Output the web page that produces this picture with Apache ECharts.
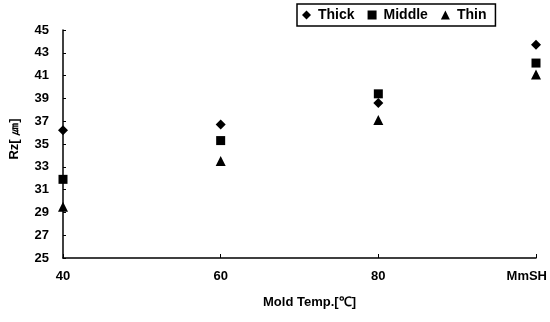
<!DOCTYPE html>
<html><head><meta charset="utf-8">
<script src="https://cdn.jsdelivr.net/npm/echarts@6/dist/echarts.min.js"></script>
<style>html,body{margin:0;padding:0;background:#fff}#c{width:550px;height:322px}</style>
</head><body><div id="c"></div>
<script>
const categories = ['40', '60', '80', 'MmSH'];
const thick = [36.2, 36.7, 38.6, 43.7];
const middle = [31.9, 35.3, 39.4, 42.1];
const thin = [29.5, 33.5, 37.1, 41.1];
const yMin = 25, yMax = 45, yStep = 2;

const font = 'Liberation Sans';
const chart = echarts.init(document.getElementById('c'));
chart.setOption({
  animation: false,
  backgroundColor: '#fff',
  grid: { left: 63, right: 13, top: 30, bottom: 64, containLabel: false },
  legend: {
    top: 4, left: 297,
    itemWidth: 9, itemHeight: 9, itemGap: 13,
    padding: [4, 9, 4, 5],
    borderColor: '#000', borderWidth: 1.5, borderRadius: 0,
    textStyle: { color: '#000', fontFamily: font, fontWeight: 'bold', fontSize: 14, padding: [0, 0, 0, 2] },
    data: [
      { name: 'Thick', icon: 'diamond' },
      { name: 'Middle', icon: 'rect' },
      { name: 'Thin', icon: 'triangle' }
    ]
  },
  xAxis: {
    type: 'category', data: categories, boundaryGap: false,
    name: 'Mold Temp.[℃]', nameLocation: 'middle', nameGap: 38,
    nameTextStyle: { color: '#000', fontFamily: font, fontWeight: 'bold', fontSize: 13, padding: [0, 0, 0, 20] },
    axisLine: { lineStyle: { color: '#000', width: 1.5 } },
    axisTick: { inside: true, length: 4, lineStyle: { color: '#000' } },
    axisLabel: {
      color: '#000', fontFamily: font, fontWeight: 'bold', fontSize: 13, margin: 12, alignMaxLabel: 'right',
      formatter: v => v === 'MmSH' ? '{m|' + v + '}' : v,
      rich: { m: { color: '#000', fontFamily: font, fontWeight: 'bold', fontSize: 13, padding: [0, -11, 0, 0] } }
    },
    splitLine: { show: false }
  },
  yAxis: {
    type: 'value', min: yMin, max: yMax, interval: yStep,
    name: 'Rz[ ㎛]', nameLocation: 'middle', nameGap: 42, nameRotate: 90,
    nameTextStyle: { color: '#000', fontFamily: font, fontWeight: 'bold', fontSize: 13, padding: [0, 0, 0, 10] },
    axisLine: { show: true, lineStyle: { color: '#000', width: 1.5 } },
    axisTick: { show: true, inside: true, length: 3, lineStyle: { color: '#000' } },
    axisLabel: { color: '#000', fontFamily: font, fontWeight: 'bold', fontSize: 13, margin: 14 },
    splitLine: { show: false }
  },
  series: [
    { name: 'Thick', type: 'scatter', symbol: 'diamond', symbolSize: 10, data: thick, itemStyle: { color: '#000', opacity: 1 } },
    { name: 'Middle', type: 'scatter', symbol: 'rect', symbolSize: 9, data: middle, itemStyle: { color: '#000', opacity: 1 } },
    { name: 'Thin', type: 'scatter', symbol: 'triangle', symbolSize: 10, data: thin, itemStyle: { color: '#000', opacity: 1 } }
  ]
});
</script></body></html>
